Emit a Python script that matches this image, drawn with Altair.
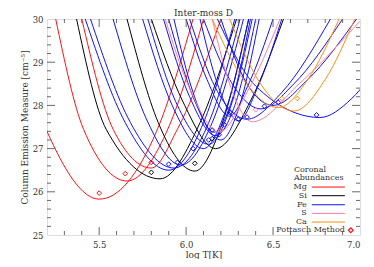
import altair as alt
import pandas as pd

# ---------------- data ----------------
elements = ["Mg", "Si", "Fe", "S", "Ca"]
element_colors = ["#ff1010", "#000000", "#1010ff", "#ff7f9f", "#ff8c10"]

# each curve: list of (log T, log EM) points
mg_curves = [
    [(4.98, 30.0), (5.2, 27.4), (5.5, 25.83), (5.83, 27.4), (6.04, 30.0)],
    [(5.25, 30.0), (5.41, 27.45), (5.66, 26.25), (5.9, 27.5), (6.1, 30.0)],
    [(5.40, 30.0), (5.58, 27.45), (5.80, 26.55), (5.95, 27.45), (6.2, 30.0)],
]
si_curves = [
    [(5.37, 30.0), (5.54, 27.45), (5.85, 26.3), (6.08, 27.6), (6.29, 30.0)],
    [(5.66, 30.0), (5.84, 27.6), (6.05, 26.48), (6.2, 27.5), (6.36, 30.0)],
    [(5.80, 30.0), (5.98, 28.1), (6.17, 27.0), (6.37, 28.1), (6.56, 30.0)],
]
fe_curves = [
    [(5.42, 30.0), (5.65, 27.6), (5.90, 26.5), (6.10, 27.6), (6.28, 30.0)],
    [(5.45, 30.0), (5.68, 27.6), (5.93, 26.55), (6.13, 27.6), (6.31, 30.0)],
    [(5.58, 30.0), (5.77, 27.7), (5.97, 26.62), (6.15, 27.6), (6.33, 30.0)],
    [(5.75, 30.0), (5.92, 28.0), (6.10, 27.0), (6.22, 27.8), (6.36, 30.0)],
    [(5.78, 30.0), (5.95, 28.0), (6.13, 27.1), (6.25, 27.9), (6.38, 30.0)],
    [(5.87, 30.0), (6.02, 28.2), (6.17, 27.3), (6.28, 28.0), (6.40, 30.0)],
    [(5.90, 30.0), (6.05, 28.1), (6.20, 27.2), (6.30, 27.9), (6.42, 30.0)],
    [(5.93, 30.0), (6.04, 28.3), (6.16, 27.38), (6.27, 28.2), (6.37, 30.0)],
    [(6.00, 30.0), (6.12, 28.6), (6.25, 27.75), (6.36, 28.5), (6.50, 30.0)],
    [(6.08, 30.0), (6.18, 28.5), (6.30, 27.65), (6.42, 28.5), (6.55, 30.0)],
    [(6.02, 30.0), (6.17, 28.4), (6.35, 27.68), (6.55, 28.3), (6.83, 30.0)],
    [(6.10, 30.0), (6.25, 28.6), (6.43, 27.92), (6.62, 28.5), (6.90, 30.0)],
    [(6.20, 30.0), (6.35, 28.5), (6.50, 28.0), (6.70, 28.6), (6.98, 30.0)],
    [(6.18, 30.0), (6.40, 28.45), (6.77, 27.72), (6.95, 28.15), (7.15, 29.2)],
]
s_curves = [
    [(5.88, 30.0), (6.03, 28.3), (6.19, 27.38), (6.35, 28.3), (6.54, 30.0)],
    [(6.15, 30.0), (6.25, 28.5), (6.38, 27.62), (6.65, 28.5), (7.0, 29.95)],
]
ca_curves = [
    [(6.15, 30.0), (6.33, 28.6), (6.53, 27.95), (6.70, 28.6), (6.88, 30.0)],
    [(6.25, 30.0), (6.42, 28.55), (6.62, 27.87), (6.80, 28.6), (6.97, 30.0)],
]

# Pottasch method points
pott_elem = (["Mg"] * 3 + ["Si"] * 3 + ["Fe"] * 13 + ["S"] * 2 + ["Ca"] * 2)
pott_T = [5.50, 5.65, 5.80,
          5.80, 6.05, 6.15,
          5.90, 5.95, 6.04, 6.13, 6.15, 6.19, 6.22, 6.25, 6.30, 6.35, 6.45, 6.53, 6.75,
          6.20, 6.40,
          6.55, 6.64]
pott_EM = [25.97, 26.42, 26.68,
           26.45, 26.66, 27.23,
           26.64, 26.68, 27.0, 27.2, 27.43, 27.32, 27.55, 27.84, 27.68, 27.73, 27.98, 28.07, 27.78,
           27.43, 27.9,
           28.16, 28.16]

# axes
x_labels = [5.5, 6.0, 6.5, 7.0]
x_major = [5.5, 6.0, 6.5]
x_minor = [5.3, 5.4, 5.6, 5.7, 5.8, 5.9, 6.1, 6.2, 6.3, 6.4, 6.6, 6.7, 6.8, 6.9]
y_labels = [25, 26, 27, 28, 29, 30]
y_major = [26, 27, 28, 29]
y_minor = [25.2, 25.4, 25.6, 25.8, 26.2, 26.4, 26.6, 26.8, 27.2, 27.4, 27.6, 27.8,
           28.2, 28.4, 28.6, 28.8, 29.2, 29.4, 29.6, 29.8]
title_text = "Inter-moss D"

# ---------------- layout / style ----------------
XMIN, XMAX, YMIN, YMAX = 5.2, 7.0, 25.0, 30.0
W, H = 313, 216
FONT = "DejaVu Serif"
AX = "#6a6a6a"
TXT = "#333333"

xs = alt.Scale(domain=[XMIN, XMAX], nice=False, zero=False)
ys = alt.Scale(domain=[YMIN, YMAX], nice=False, zero=False)
cs = alt.Scale(domain=elements, range=element_colors)

xaxis = alt.Axis(values=x_labels, format=".1f", ticks=False, tickSize=0, domain=False, grid=False,
                 labelFont=FONT, labelFontSize=8.5, labelColor=TXT, labelPadding=5,
                 title="log T[K]", titleFont=FONT, titleFontSize=9, titleFontWeight="normal",
                 titleColor=TXT, titlePadding=2)
yaxis = alt.Axis(values=y_labels, format="d", ticks=False, tickSize=0, domain=False, grid=False,
                 labelFont=FONT, labelFontSize=8.5, labelColor=TXT, labelPadding=4,
                 title="Column Emission Measure [cm⁻⁵]", titleFont=FONT, titleFontSize=9,
                 titleFontWeight="normal", titleColor=TXT, titlePadding=3)


def X(field):
    return alt.X(field, scale=xs, axis=xaxis)


def Y(field):
    return alt.Y(field, scale=ys, axis=yaxis)


rows = []
for elem, curves in zip(elements, [mg_curves, si_curves, fe_curves, s_curves, ca_curves]):
    for i, pts in enumerate(curves):
        for j, (t, em) in enumerate(pts):
            rows.append({"elem": elem, "cid": f"{elem}{i}", "T": t, "EM": em, "o": j})
curves_df = pd.DataFrame(rows)
pott_df = pd.DataFrame({"elem": pott_elem, "T": pott_T, "EM": pott_EM})

layers = []
for elem in elements:
    sub = curves_df[curves_df.elem == elem]
    layers.append(alt.Chart(sub).mark_line(clip=True, strokeWidth=1, interpolate="monotone").encode(
        x=X("T:Q"), y=Y("EM:Q"),
        color=alt.Color("elem:N", scale=cs, legend=None),
        detail="cid:N", order="o:Q"))

layers.append(alt.Chart(pott_df).mark_point(shape="diamond", size=22, filled=False, strokeWidth=1,
                                            clip=True, opacity=1).encode(
    x=X("T:Q"), y=Y("EM:Q"), color=alt.Color("elem:N", scale=cs, legend=None)))

# inward ticks on all four sides
MAJ_Y, MIN_Y = 8 / H * (YMAX - YMIN), 4 / H * (YMAX - YMIN)
MAJ_X, MIN_X = 8 / W * (XMAX - XMIN), 4 / W * (XMAX - XMIN)
xt = []
for v in x_major:
    xt += [{"x": v, "y": YMIN, "y2": YMIN + MAJ_Y}, {"x": v, "y": YMAX, "y2": YMAX - MAJ_Y}]
for v in x_minor:
    xt += [{"x": v, "y": YMIN, "y2": YMIN + MIN_Y}, {"x": v, "y": YMAX, "y2": YMAX - MIN_Y}]
yt = []
for v in y_major:
    yt += [{"y": v, "x": XMIN, "x2": XMIN + MAJ_X}, {"y": v, "x": XMAX, "x2": XMAX - MAJ_X}]
for v in y_minor:
    yt += [{"y": v, "x": XMIN, "x2": XMIN + MIN_X}, {"y": v, "x": XMAX, "x2": XMAX - MIN_X}]
layers.append(alt.Chart(pd.DataFrame(xt)).mark_rule(color=AX, strokeWidth=1).encode(
    x=X("x:Q"), y=Y("y:Q"), y2="y2:Q"))
layers.append(alt.Chart(pd.DataFrame(yt)).mark_rule(color=AX, strokeWidth=1).encode(
    x=X("x:Q"), x2="x2:Q", y=Y("y:Q")))

# legend drawn inside the plot (data coordinates)
legend_y = [26.11, 25.91, 25.70, 25.50, 25.30]
LBL_X, LINE_X0, LINE_X1 = 6.694, 6.723, 6.913
leg_df = pd.DataFrame({"elem": elements, "EM": legend_y, "x": LBL_X, "x0": LINE_X0, "x1": LINE_X1})
layers.append(alt.Chart(leg_df).mark_text(align="right", baseline="middle", font=FONT,
                                          fontSize=8, color=TXT).encode(
    x=X("x:Q"), y=Y("EM:Q"), text="elem:N"))
layers.append(alt.Chart(leg_df).mark_rule(strokeWidth=1).encode(
    x=X("x0:Q"), x2="x1:Q", y=Y("EM:Q"),
    color=alt.Color("elem:N", scale=cs, legend=None)))
head_df = pd.DataFrame({"t": ["Coronal", "Abundances"], "x": [6.62, 6.62], "EM": [26.5, 26.31]})
layers.append(alt.Chart(head_df).mark_text(align="left", baseline="middle", font=FONT,
                                           fontSize=8, color=TXT).encode(
    x=X("x:Q"), y=Y("EM:Q"), text="t:N"))
pm_df = pd.DataFrame({"t": ["Pottasch Method"], "x": [6.913], "xd": [6.947], "EM": [25.11]})
layers.append(alt.Chart(pm_df).mark_text(align="right", baseline="middle", font=FONT,
                                         fontSize=8, color=TXT).encode(
    x=X("x:Q"), y=Y("EM:Q"), text="t:N"))
layers.append(alt.Chart(pm_df).mark_point(shape="diamond", size=22, filled=False,
                                          strokeWidth=1.2, color="#ff1010", opacity=1).encode(
    x=X("xd:Q"), y=Y("EM:Q")))

# chart title, centred above the plot frame
title_df = pd.DataFrame({"t": [title_text], "x": [(XMIN + XMAX) / 2], "EM": [YMAX]})
layers.append(alt.Chart(title_df).mark_text(align="center", baseline="bottom", dy=-1, font=FONT,
                                            fontSize=9, color=TXT).encode(
    x=X("x:Q"), y=Y("EM:Q"), text="t:N"))

chart = alt.layer(*layers).properties(
    width=W, height=H,
    autosize=alt.AutoSizeParams(type="none"),
    padding={"left": 39, "top": 11, "right": 6, "bottom": 24},
).configure_view(stroke=AX, strokeWidth=1).configure(background="white")

chart.save("out.html", embed_options={"renderer": "svg", "actions": False})
